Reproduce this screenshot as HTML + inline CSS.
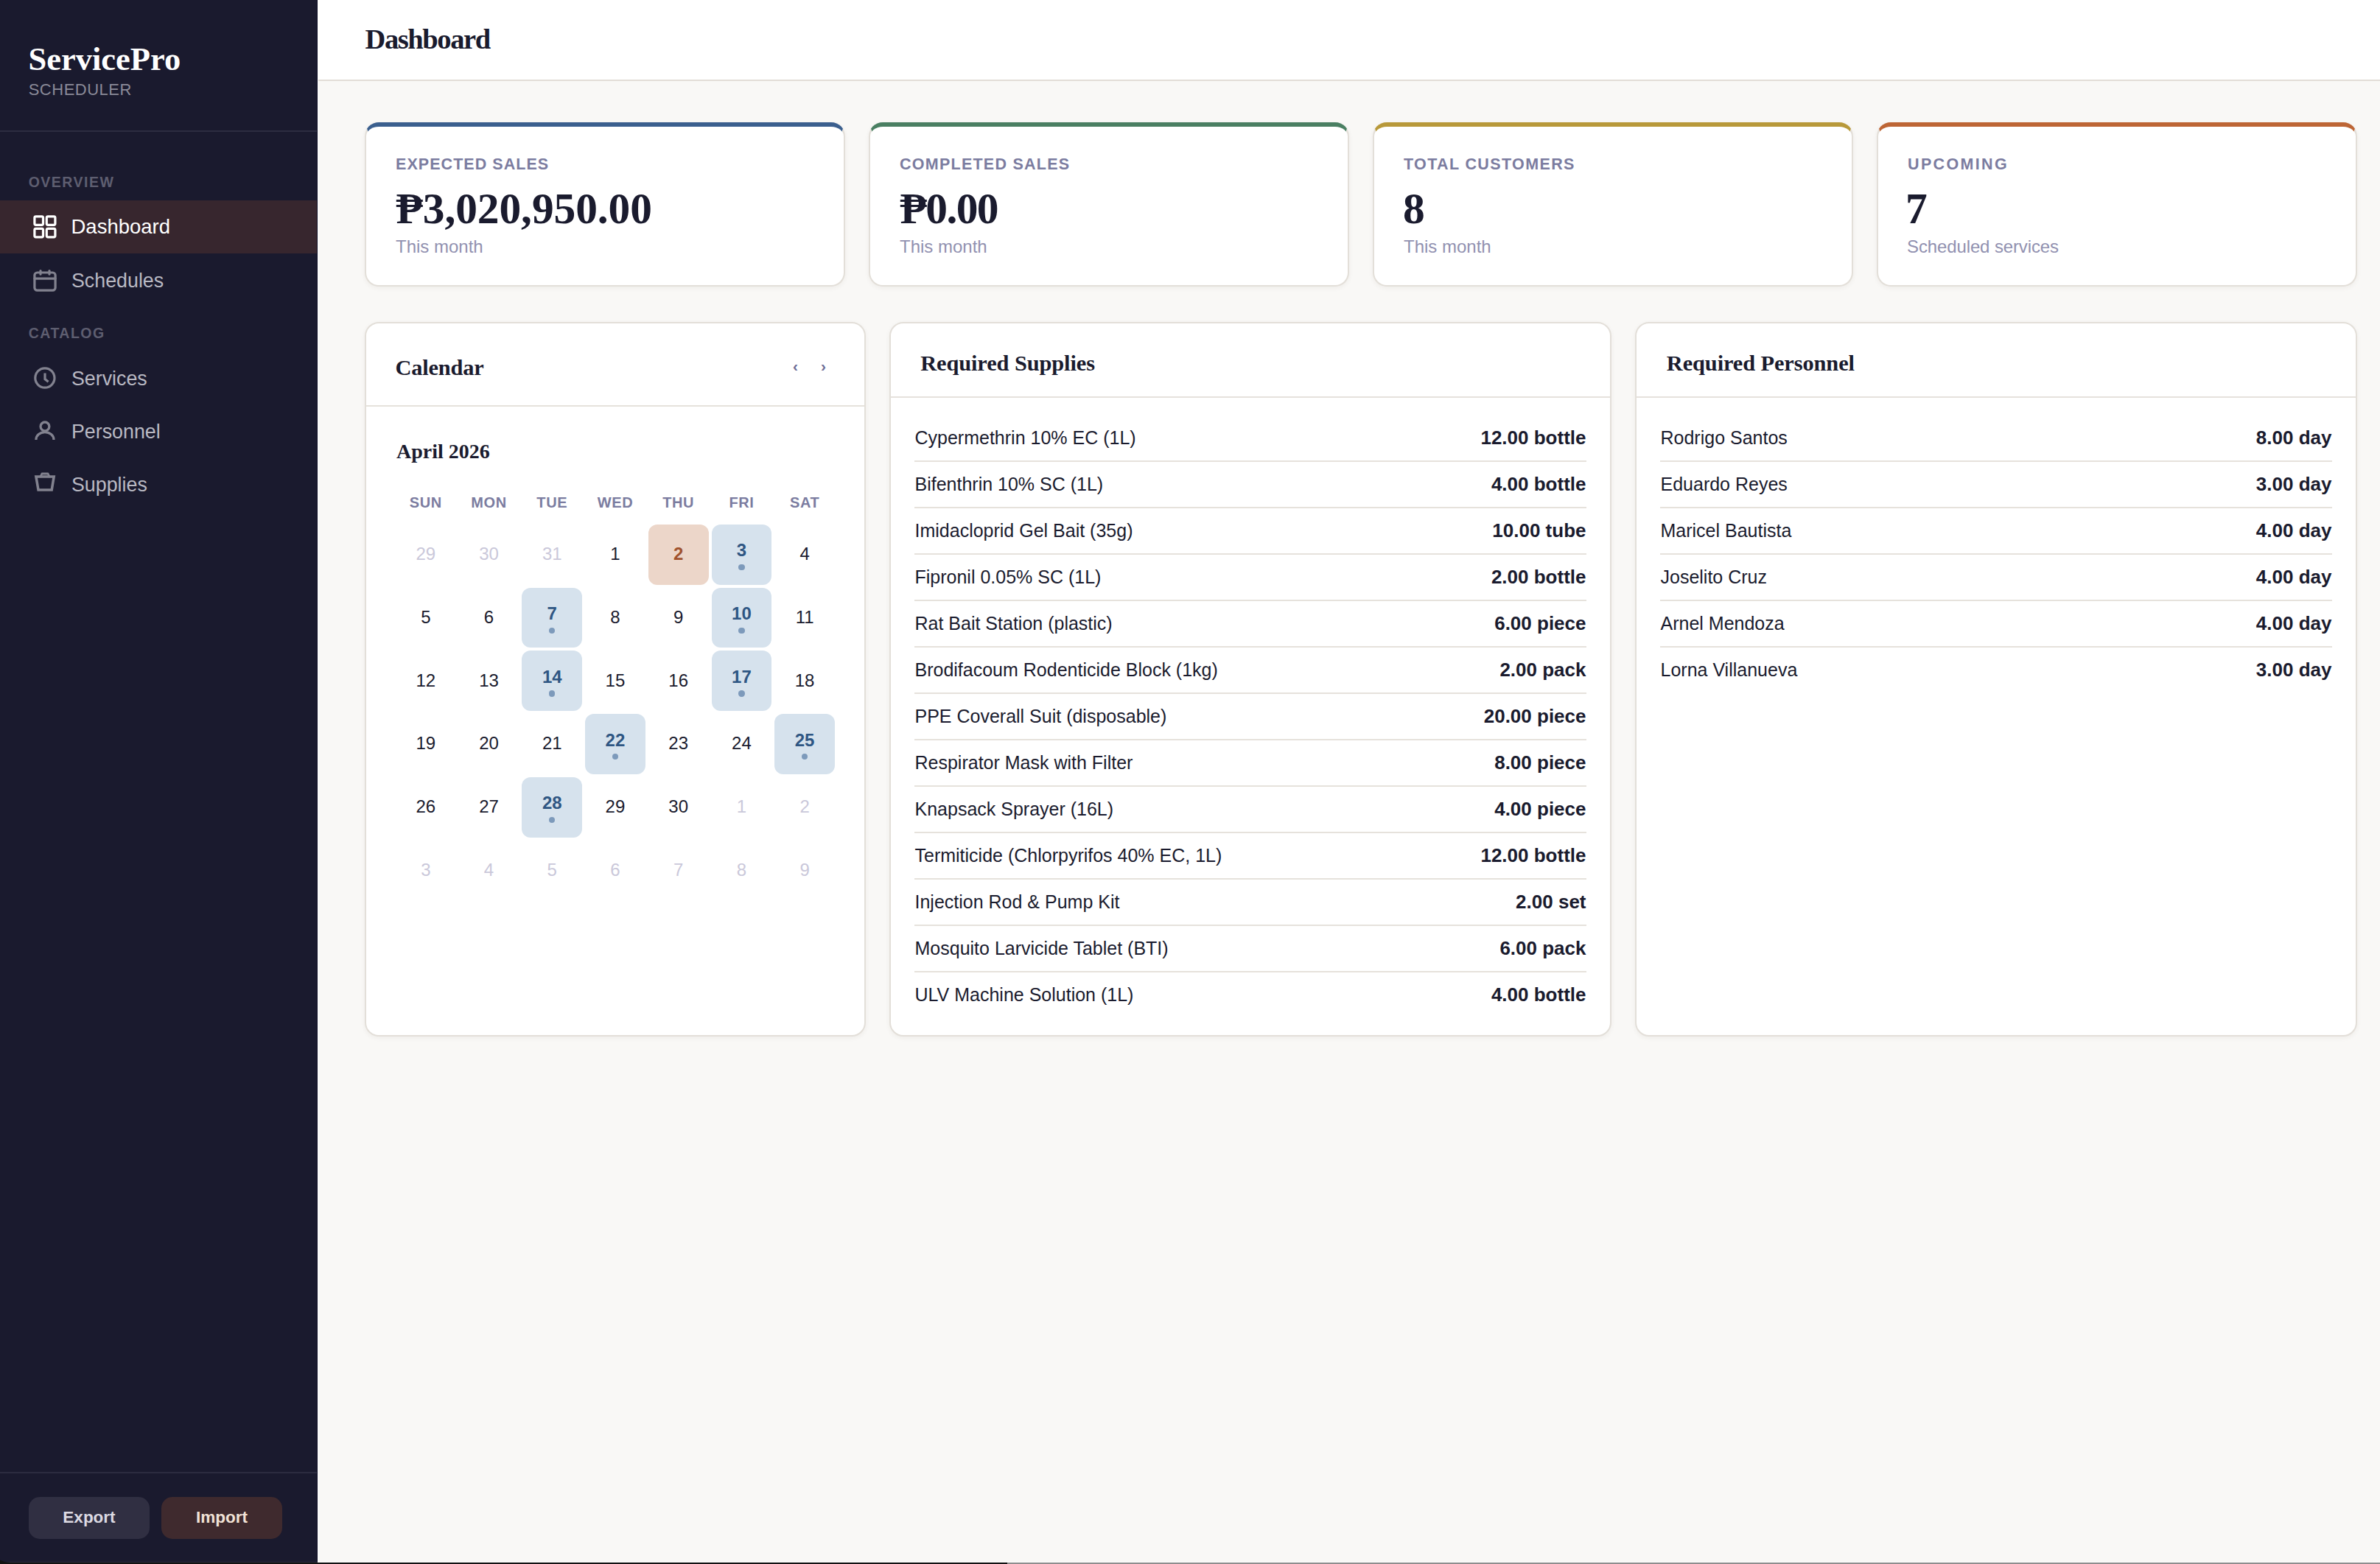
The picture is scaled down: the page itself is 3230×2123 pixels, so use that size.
<!DOCTYPE html>
<html><head><meta charset="utf-8"><title>ServicePro Scheduler - Dashboard</title>
<style>
*{margin:0;padding:0;box-sizing:border-box}
html,body{width:3230px;height:2123px;overflow:hidden;background:#f9f8f6;font-family:'Liberation Sans', sans-serif}
.t{position:absolute;line-height:0;white-space:nowrap}
.r{position:absolute}
svg{position:absolute;overflow:visible}
.card{position:absolute;background:#fff;border:2px solid #e3dfd9;border-radius:19px;box-shadow:0 2px 6px rgba(60,50,40,0.06)}
</style></head><body>
<div class="r" style="left:0px;top:0px;width:431px;height:2121px;background:#1a1a2e;"></div>
<div class="t" style="top:79.79px;font-size:44.5px;font-family:'Liberation Serif', serif;font-weight:700;color:#ffffff;left:38.5px;">ServicePro</div>
<div class="t" style="top:122.47px;font-size:22px;font-family:'Liberation Sans', sans-serif;font-weight:400;color:#8a8a98;letter-spacing:0.5px;left:38.7px;">SCHEDULER</div>
<div class="r" style="left:0px;top:177px;width:431px;height:2px;background:#2c2c40;"></div>
<div class="t" style="top:247.44px;font-size:19.5px;font-family:'Liberation Sans', sans-serif;font-weight:700;color:#5e5e70;letter-spacing:1.5px;left:38.7px;">OVERVIEW</div>
<div class="r" style="left:0px;top:272px;width:431px;height:72px;background:#37262e;"></div>
<div class="t" style="top:308.47px;font-size:27.5px;font-family:'Liberation Sans', sans-serif;font-weight:400;color:#ffffff;left:96.5px;">Dashboard</div>
<div class="t" style="top:380.91px;font-size:26.8px;font-family:'Liberation Sans', sans-serif;font-weight:400;color:#b9b9c3;left:97px;">Schedules</div>
<div class="t" style="top:513.71px;font-size:26.8px;font-family:'Liberation Sans', sans-serif;font-weight:400;color:#b9b9c3;left:97px;">Services</div>
<div class="t" style="top:585.71px;font-size:26.8px;font-family:'Liberation Sans', sans-serif;font-weight:400;color:#b9b9c3;left:97px;">Personnel</div>
<div class="t" style="top:658.01px;font-size:26.8px;font-family:'Liberation Sans', sans-serif;font-weight:400;color:#b9b9c3;left:97px;">Supplies</div>
<div class="t" style="top:452.44px;font-size:19.5px;font-family:'Liberation Sans', sans-serif;font-weight:700;color:#5e5e70;letter-spacing:1.5px;left:38.7px;">CATALOG</div>
<svg style="left:40px;top:285px" width="45" height="45" viewBox="0 0 45 45" fill="none" stroke="#ffffff" stroke-width="3.2" stroke-linecap="round" stroke-linejoin="round"><rect x="6.9" y="8.8" width="11.6" height="11.6" rx="1.8"/><rect x="6.9" y="25.3" width="11.6" height="11.6" rx="1.8"/><rect x="23.3" y="8.8" width="11.6" height="11.6" rx="1.8"/><rect x="23.3" y="25.3" width="11.6" height="11.6" rx="1.8"/></svg>
<svg style="left:40px;top:358px" width="45" height="45" viewBox="0 0 45 45" fill="none" stroke="#82828f" stroke-width="3.2" stroke-linecap="round" stroke-linejoin="round"><rect x="6.9" y="12" width="28.2" height="24.1" rx="3.6"/><path d="M6.9 20.1H35.1" /><path d="M15 9.5V14.2M27 9.5V14.2"/></svg>
<svg style="left:40px;top:491px" width="45" height="45" viewBox="0 0 45 45" fill="none" stroke="#82828f" stroke-width="3.2" stroke-linecap="round" stroke-linejoin="round"><circle cx="20.9" cy="22" r="13.1"/><path d="M21 15.6V23.6L25.6 27.2" stroke-linecap="butt" stroke-linejoin="miter"/></svg>
<svg style="left:40px;top:563px" width="45" height="45" viewBox="0 0 45 45" fill="none" stroke="#82828f" stroke-width="3.3" stroke-linecap="round" stroke-linejoin="round"><circle cx="20.95" cy="15.9" r="5.9"/><path d="M8.9 33.9A12 10.3 0 0 1 33 33.9" stroke-linecap="butt"/></svg>
<svg style="left:40px;top:635px" width="45" height="45" viewBox="0 0 45 45" fill="none" stroke="#82828f" stroke-width="3.5" stroke-linecap="round" stroke-linejoin="round"><path d="M8.9 11.9H33.2L30.2 29.9H12Z" stroke-linejoin="miter"/><path d="M15 11.9L16.9 8H25.1L27 11.9" stroke-width="2.8"/></svg>
<div class="r" style="left:0px;top:1998px;width:431px;height:2px;background:#2c2c40;"></div>
<div class="r" style="left:39px;top:2032px;width:164px;height:57px;background:#302f42;border-radius:15px"></div>
<div class="r" style="left:219px;top:2032px;width:164px;height:57px;background:#3f2a2e;border-radius:15px"></div>
<div class="t" style="top:2060.40px;font-size:22.5px;font-family:'Liberation Sans', sans-serif;font-weight:700;color:#dcdae2;left:39.0px;width:164px;text-align:center;">Export</div>
<div class="t" style="top:2060.40px;font-size:22.5px;font-family:'Liberation Sans', sans-serif;font-weight:700;color:#f1e2d6;left:219.0px;width:164px;text-align:center;">Import</div>
<div class="r" style="left:431px;top:0px;width:2799px;height:108px;background:#ffffff;"></div>
<div class="r" style="left:431px;top:108px;width:2799px;height:2px;background:#e2ddd7;"></div>
<div class="t" style="top:53.41px;font-size:38.5px;font-family:'Liberation Serif', serif;font-weight:700;color:#1a1b2e;letter-spacing:-1.4px;left:495.5px;">Dashboard</div>
<div class="card" style="left:495px;top:166px;width:652px;height:223px;border-top:6px solid #3b5f8e"></div>
<div class="t" style="top:222.75px;font-size:21.5px;font-family:'Liberation Sans', sans-serif;font-weight:700;color:#7b7ca0;letter-spacing:1.05px;left:537px;">EXPECTED SALES</div>
<div class="t" style="top:282.92px;font-size:59.5px;font-family:'Liberation Serif', serif;font-weight:700;color:#1a1b2e;letter-spacing:-0.1px;left:537.5px;">&#8369;3,020,950.00</div>
<div class="t" style="top:334.98px;font-size:24px;font-family:'Liberation Sans', sans-serif;font-weight:400;color:#9191b0;left:537px;">This month</div>
<div class="card" style="left:1179px;top:166px;width:652px;height:223px;border-top:6px solid #4a7f62"></div>
<div class="t" style="top:222.75px;font-size:21.5px;font-family:'Liberation Sans', sans-serif;font-weight:700;color:#7b7ca0;letter-spacing:1.25px;left:1221px;">COMPLETED SALES</div>
<div class="t" style="top:282.92px;font-size:59.5px;font-family:'Liberation Serif', serif;font-weight:700;color:#1a1b2e;letter-spacing:-1.6px;left:1221.5px;">&#8369;0.00</div>
<div class="t" style="top:334.98px;font-size:24px;font-family:'Liberation Sans', sans-serif;font-weight:400;color:#9191b0;left:1221px;">This month</div>
<div class="card" style="left:1863px;top:166px;width:652px;height:223px;border-top:6px solid #b8993a"></div>
<div class="t" style="top:222.75px;font-size:21.5px;font-family:'Liberation Sans', sans-serif;font-weight:700;color:#7b7ca0;letter-spacing:1.37px;left:1905px;">TOTAL CUSTOMERS</div>
<div class="t" style="top:282.92px;font-size:59.5px;font-family:'Liberation Serif', serif;font-weight:700;color:#1a1b2e;left:1904px;">8</div>
<div class="t" style="top:334.98px;font-size:24px;font-family:'Liberation Sans', sans-serif;font-weight:400;color:#9191b0;left:1905px;">This month</div>
<div class="card" style="left:2547px;top:166px;width:652px;height:223px;border-top:6px solid #bd6535"></div>
<div class="t" style="top:222.75px;font-size:21.5px;font-family:'Liberation Sans', sans-serif;font-weight:700;color:#7b7ca0;letter-spacing:2.35px;left:2589px;">UPCOMING</div>
<div class="t" style="top:282.92px;font-size:59.5px;font-family:'Liberation Serif', serif;font-weight:700;color:#1a1b2e;left:2586px;">7</div>
<div class="t" style="top:334.98px;font-size:24px;font-family:'Liberation Sans', sans-serif;font-weight:400;color:#9191b0;letter-spacing:-0.12px;left:2588px;">Scheduled services</div>
<div class="card" style="left:495px;top:437px;width:680px;height:970px"></div>
<div class="card" style="left:1207px;top:437px;width:980px;height:970px"></div>
<div class="card" style="left:2219px;top:437px;width:980px;height:970px"></div>
<div class="r" style="left:497px;top:550px;width:676px;height:2px;background:#e6e2dc;"></div>
<div class="t" style="top:499.24px;font-size:30.4px;font-family:'Liberation Serif', serif;font-weight:700;color:#1a1b2e;letter-spacing:-0.2px;left:536.5px;">Calendar</div>
<div class="t" style="top:497.32px;font-size:21px;font-family:'Liberation Sans', sans-serif;font-weight:700;color:#6e6e96;left:1069.5px;width:20px;text-align:center;">&#8249;</div>
<div class="t" style="top:497.32px;font-size:21px;font-family:'Liberation Sans', sans-serif;font-weight:700;color:#6e6e96;left:1107.5px;width:20px;text-align:center;">&#8250;</div>
<div class="t" style="top:613.05px;font-size:28px;font-family:'Liberation Serif', serif;font-weight:700;color:#1a1b2e;left:538px;">April 2026</div>
<div class="t" style="top:682.27px;font-size:20px;font-family:'Liberation Sans', sans-serif;font-weight:700;color:#7b7ca0;letter-spacing:0.6px;left:535.85px;width:84px;text-align:center;">SUN</div>
<div class="t" style="top:682.27px;font-size:20px;font-family:'Liberation Sans', sans-serif;font-weight:700;color:#7b7ca0;letter-spacing:0.6px;left:621.5600000000001px;width:84px;text-align:center;">MON</div>
<div class="t" style="top:682.27px;font-size:20px;font-family:'Liberation Sans', sans-serif;font-weight:700;color:#7b7ca0;letter-spacing:0.6px;left:707.27px;width:84px;text-align:center;">TUE</div>
<div class="t" style="top:682.27px;font-size:20px;font-family:'Liberation Sans', sans-serif;font-weight:700;color:#7b7ca0;letter-spacing:0.6px;left:792.98px;width:84px;text-align:center;">WED</div>
<div class="t" style="top:682.27px;font-size:20px;font-family:'Liberation Sans', sans-serif;font-weight:700;color:#7b7ca0;letter-spacing:0.6px;left:878.69px;width:84px;text-align:center;">THU</div>
<div class="t" style="top:682.27px;font-size:20px;font-family:'Liberation Sans', sans-serif;font-weight:700;color:#7b7ca0;letter-spacing:0.6px;left:964.4px;width:84px;text-align:center;">FRI</div>
<div class="t" style="top:682.27px;font-size:20px;font-family:'Liberation Sans', sans-serif;font-weight:700;color:#7b7ca0;letter-spacing:0.6px;left:1050.1100000000001px;width:84px;text-align:center;">SAT</div>
<div class="t" style="top:752.28px;font-size:24px;font-family:'Liberation Sans', sans-serif;font-weight:400;color:#cac8da;left:537.0px;width:81.7px;text-align:center;">29</div>
<div class="t" style="top:752.28px;font-size:24px;font-family:'Liberation Sans', sans-serif;font-weight:400;color:#cac8da;left:622.71px;width:81.7px;text-align:center;">30</div>
<div class="t" style="top:752.28px;font-size:24px;font-family:'Liberation Sans', sans-serif;font-weight:400;color:#cac8da;left:708.42px;width:81.7px;text-align:center;">31</div>
<div class="t" style="top:752.28px;font-size:24px;font-family:'Liberation Sans', sans-serif;font-weight:400;color:#1a1b2e;left:794.13px;width:81.7px;text-align:center;">1</div>
<div class="r" style="left:879.84px;top:712.00px;width:81.7px;height:81.7px;background:#ecd6c9;border-radius:12px"></div>
<div class="t" style="top:752.28px;font-size:24px;font-family:'Liberation Sans', sans-serif;font-weight:700;color:#a0522d;left:879.8399999999999px;width:81.7px;text-align:center;">2</div>
<div class="r" style="left:965.55px;top:712.00px;width:81.7px;height:81.7px;background:#d6e2ed;border-radius:12px"></div>
<div class="t" style="top:747.48px;font-size:24px;font-family:'Liberation Sans', sans-serif;font-weight:700;color:#2f5683;left:965.55px;width:81.7px;text-align:center;">3</div>
<div class="r" style="left:1002.20px;top:765.80px;width:8.4px;height:8.4px;border-radius:50%;background:#7d9abb"></div>
<div class="t" style="top:752.28px;font-size:24px;font-family:'Liberation Sans', sans-serif;font-weight:400;color:#1a1b2e;left:1051.26px;width:81.7px;text-align:center;">4</div>
<div class="t" style="top:837.99px;font-size:24px;font-family:'Liberation Sans', sans-serif;font-weight:400;color:#1a1b2e;left:537.0px;width:81.7px;text-align:center;">5</div>
<div class="t" style="top:837.99px;font-size:24px;font-family:'Liberation Sans', sans-serif;font-weight:400;color:#1a1b2e;left:622.71px;width:81.7px;text-align:center;">6</div>
<div class="r" style="left:708.42px;top:797.71px;width:81.7px;height:81.7px;background:#d6e2ed;border-radius:12px"></div>
<div class="t" style="top:833.19px;font-size:24px;font-family:'Liberation Sans', sans-serif;font-weight:700;color:#2f5683;left:708.42px;width:81.7px;text-align:center;">7</div>
<div class="r" style="left:745.07px;top:851.51px;width:8.4px;height:8.4px;border-radius:50%;background:#7d9abb"></div>
<div class="t" style="top:837.99px;font-size:24px;font-family:'Liberation Sans', sans-serif;font-weight:400;color:#1a1b2e;left:794.13px;width:81.7px;text-align:center;">8</div>
<div class="t" style="top:837.99px;font-size:24px;font-family:'Liberation Sans', sans-serif;font-weight:400;color:#1a1b2e;left:879.8399999999999px;width:81.7px;text-align:center;">9</div>
<div class="r" style="left:965.55px;top:797.71px;width:81.7px;height:81.7px;background:#d6e2ed;border-radius:12px"></div>
<div class="t" style="top:833.19px;font-size:24px;font-family:'Liberation Sans', sans-serif;font-weight:700;color:#2f5683;left:965.55px;width:81.7px;text-align:center;">10</div>
<div class="r" style="left:1002.20px;top:851.51px;width:8.4px;height:8.4px;border-radius:50%;background:#7d9abb"></div>
<div class="t" style="top:837.99px;font-size:24px;font-family:'Liberation Sans', sans-serif;font-weight:400;color:#1a1b2e;left:1051.26px;width:81.7px;text-align:center;">11</div>
<div class="t" style="top:923.70px;font-size:24px;font-family:'Liberation Sans', sans-serif;font-weight:400;color:#1a1b2e;left:537.0px;width:81.7px;text-align:center;">12</div>
<div class="t" style="top:923.70px;font-size:24px;font-family:'Liberation Sans', sans-serif;font-weight:400;color:#1a1b2e;left:622.71px;width:81.7px;text-align:center;">13</div>
<div class="r" style="left:708.42px;top:883.42px;width:81.7px;height:81.7px;background:#d6e2ed;border-radius:12px"></div>
<div class="t" style="top:918.90px;font-size:24px;font-family:'Liberation Sans', sans-serif;font-weight:700;color:#2f5683;left:708.42px;width:81.7px;text-align:center;">14</div>
<div class="r" style="left:745.07px;top:937.22px;width:8.4px;height:8.4px;border-radius:50%;background:#7d9abb"></div>
<div class="t" style="top:923.70px;font-size:24px;font-family:'Liberation Sans', sans-serif;font-weight:400;color:#1a1b2e;left:794.13px;width:81.7px;text-align:center;">15</div>
<div class="t" style="top:923.70px;font-size:24px;font-family:'Liberation Sans', sans-serif;font-weight:400;color:#1a1b2e;left:879.8399999999999px;width:81.7px;text-align:center;">16</div>
<div class="r" style="left:965.55px;top:883.42px;width:81.7px;height:81.7px;background:#d6e2ed;border-radius:12px"></div>
<div class="t" style="top:918.90px;font-size:24px;font-family:'Liberation Sans', sans-serif;font-weight:700;color:#2f5683;left:965.55px;width:81.7px;text-align:center;">17</div>
<div class="r" style="left:1002.20px;top:937.22px;width:8.4px;height:8.4px;border-radius:50%;background:#7d9abb"></div>
<div class="t" style="top:923.70px;font-size:24px;font-family:'Liberation Sans', sans-serif;font-weight:400;color:#1a1b2e;left:1051.26px;width:81.7px;text-align:center;">18</div>
<div class="t" style="top:1009.41px;font-size:24px;font-family:'Liberation Sans', sans-serif;font-weight:400;color:#1a1b2e;left:537.0px;width:81.7px;text-align:center;">19</div>
<div class="t" style="top:1009.41px;font-size:24px;font-family:'Liberation Sans', sans-serif;font-weight:400;color:#1a1b2e;left:622.71px;width:81.7px;text-align:center;">20</div>
<div class="t" style="top:1009.41px;font-size:24px;font-family:'Liberation Sans', sans-serif;font-weight:400;color:#1a1b2e;left:708.42px;width:81.7px;text-align:center;">21</div>
<div class="r" style="left:794.13px;top:969.13px;width:81.7px;height:81.7px;background:#d6e2ed;border-radius:12px"></div>
<div class="t" style="top:1004.61px;font-size:24px;font-family:'Liberation Sans', sans-serif;font-weight:700;color:#2f5683;left:794.13px;width:81.7px;text-align:center;">22</div>
<div class="r" style="left:830.78px;top:1022.93px;width:8.4px;height:8.4px;border-radius:50%;background:#7d9abb"></div>
<div class="t" style="top:1009.41px;font-size:24px;font-family:'Liberation Sans', sans-serif;font-weight:400;color:#1a1b2e;left:879.8399999999999px;width:81.7px;text-align:center;">23</div>
<div class="t" style="top:1009.41px;font-size:24px;font-family:'Liberation Sans', sans-serif;font-weight:400;color:#1a1b2e;left:965.55px;width:81.7px;text-align:center;">24</div>
<div class="r" style="left:1051.26px;top:969.13px;width:81.7px;height:81.7px;background:#d6e2ed;border-radius:12px"></div>
<div class="t" style="top:1004.61px;font-size:24px;font-family:'Liberation Sans', sans-serif;font-weight:700;color:#2f5683;left:1051.26px;width:81.7px;text-align:center;">25</div>
<div class="r" style="left:1087.91px;top:1022.93px;width:8.4px;height:8.4px;border-radius:50%;background:#7d9abb"></div>
<div class="t" style="top:1095.12px;font-size:24px;font-family:'Liberation Sans', sans-serif;font-weight:400;color:#1a1b2e;left:537.0px;width:81.7px;text-align:center;">26</div>
<div class="t" style="top:1095.12px;font-size:24px;font-family:'Liberation Sans', sans-serif;font-weight:400;color:#1a1b2e;left:622.71px;width:81.7px;text-align:center;">27</div>
<div class="r" style="left:708.42px;top:1054.84px;width:81.7px;height:81.7px;background:#d6e2ed;border-radius:12px"></div>
<div class="t" style="top:1090.32px;font-size:24px;font-family:'Liberation Sans', sans-serif;font-weight:700;color:#2f5683;left:708.42px;width:81.7px;text-align:center;">28</div>
<div class="r" style="left:745.07px;top:1108.64px;width:8.4px;height:8.4px;border-radius:50%;background:#7d9abb"></div>
<div class="t" style="top:1095.12px;font-size:24px;font-family:'Liberation Sans', sans-serif;font-weight:400;color:#1a1b2e;left:794.13px;width:81.7px;text-align:center;">29</div>
<div class="t" style="top:1095.12px;font-size:24px;font-family:'Liberation Sans', sans-serif;font-weight:400;color:#1a1b2e;left:879.8399999999999px;width:81.7px;text-align:center;">30</div>
<div class="t" style="top:1095.12px;font-size:24px;font-family:'Liberation Sans', sans-serif;font-weight:400;color:#cac8da;left:965.55px;width:81.7px;text-align:center;">1</div>
<div class="t" style="top:1095.12px;font-size:24px;font-family:'Liberation Sans', sans-serif;font-weight:400;color:#cac8da;left:1051.26px;width:81.7px;text-align:center;">2</div>
<div class="t" style="top:1180.83px;font-size:24px;font-family:'Liberation Sans', sans-serif;font-weight:400;color:#cac8da;left:537.0px;width:81.7px;text-align:center;">3</div>
<div class="t" style="top:1180.83px;font-size:24px;font-family:'Liberation Sans', sans-serif;font-weight:400;color:#cac8da;left:622.71px;width:81.7px;text-align:center;">4</div>
<div class="t" style="top:1180.83px;font-size:24px;font-family:'Liberation Sans', sans-serif;font-weight:400;color:#cac8da;left:708.42px;width:81.7px;text-align:center;">5</div>
<div class="t" style="top:1180.83px;font-size:24px;font-family:'Liberation Sans', sans-serif;font-weight:400;color:#cac8da;left:794.13px;width:81.7px;text-align:center;">6</div>
<div class="t" style="top:1180.83px;font-size:24px;font-family:'Liberation Sans', sans-serif;font-weight:400;color:#cac8da;left:879.8399999999999px;width:81.7px;text-align:center;">7</div>
<div class="t" style="top:1180.83px;font-size:24px;font-family:'Liberation Sans', sans-serif;font-weight:400;color:#cac8da;left:965.55px;width:81.7px;text-align:center;">8</div>
<div class="t" style="top:1180.83px;font-size:24px;font-family:'Liberation Sans', sans-serif;font-weight:400;color:#cac8da;left:1051.26px;width:81.7px;text-align:center;">9</div>
<div class="r" style="left:1209px;top:538px;width:976px;height:2px;background:#e6e2dc;"></div>
<div class="t" style="top:492.94px;font-size:30.4px;font-family:'Liberation Serif', serif;font-weight:700;color:#1a1b2e;letter-spacing:-0.1px;left:1249.2px;">Required Supplies</div>
<div class="t" style="top:594.33px;font-size:25px;font-family:'Liberation Sans', sans-serif;font-weight:400;color:#1a1b2e;left:1241.5px;">Cypermethrin 10% EC (1L)</div>
<div class="t" style="top:593.99px;font-size:26px;font-family:'Liberation Sans', sans-serif;font-weight:700;color:#1a1b2e;right:1077.5px;">12.00 bottle</div>
<div class="r" style="left:1241px;top:625px;width:912px;height:2px;background:#e6e2dc;"></div>
<div class="t" style="top:657.33px;font-size:25px;font-family:'Liberation Sans', sans-serif;font-weight:400;color:#1a1b2e;left:1241.5px;">Bifenthrin 10% SC (1L)</div>
<div class="t" style="top:656.99px;font-size:26px;font-family:'Liberation Sans', sans-serif;font-weight:700;color:#1a1b2e;right:1077.5px;">4.00 bottle</div>
<div class="r" style="left:1241px;top:688px;width:912px;height:2px;background:#e6e2dc;"></div>
<div class="t" style="top:720.33px;font-size:25px;font-family:'Liberation Sans', sans-serif;font-weight:400;color:#1a1b2e;left:1241.5px;">Imidacloprid Gel Bait (35g)</div>
<div class="t" style="top:719.99px;font-size:26px;font-family:'Liberation Sans', sans-serif;font-weight:700;color:#1a1b2e;right:1077.5px;">10.00 tube</div>
<div class="r" style="left:1241px;top:751px;width:912px;height:2px;background:#e6e2dc;"></div>
<div class="t" style="top:783.33px;font-size:25px;font-family:'Liberation Sans', sans-serif;font-weight:400;color:#1a1b2e;left:1241.5px;">Fipronil 0.05% SC (1L)</div>
<div class="t" style="top:782.99px;font-size:26px;font-family:'Liberation Sans', sans-serif;font-weight:700;color:#1a1b2e;right:1077.5px;">2.00 bottle</div>
<div class="r" style="left:1241px;top:814px;width:912px;height:2px;background:#e6e2dc;"></div>
<div class="t" style="top:846.33px;font-size:25px;font-family:'Liberation Sans', sans-serif;font-weight:400;color:#1a1b2e;left:1241.5px;">Rat Bait Station (plastic)</div>
<div class="t" style="top:845.99px;font-size:26px;font-family:'Liberation Sans', sans-serif;font-weight:700;color:#1a1b2e;right:1077.5px;">6.00 piece</div>
<div class="r" style="left:1241px;top:877px;width:912px;height:2px;background:#e6e2dc;"></div>
<div class="t" style="top:909.33px;font-size:25px;font-family:'Liberation Sans', sans-serif;font-weight:400;color:#1a1b2e;left:1241.5px;">Brodifacoum Rodenticide Block (1kg)</div>
<div class="t" style="top:908.99px;font-size:26px;font-family:'Liberation Sans', sans-serif;font-weight:700;color:#1a1b2e;right:1077.5px;">2.00 pack</div>
<div class="r" style="left:1241px;top:940px;width:912px;height:2px;background:#e6e2dc;"></div>
<div class="t" style="top:972.33px;font-size:25px;font-family:'Liberation Sans', sans-serif;font-weight:400;color:#1a1b2e;left:1241.5px;">PPE Coverall Suit (disposable)</div>
<div class="t" style="top:971.99px;font-size:26px;font-family:'Liberation Sans', sans-serif;font-weight:700;color:#1a1b2e;right:1077.5px;">20.00 piece</div>
<div class="r" style="left:1241px;top:1003px;width:912px;height:2px;background:#e6e2dc;"></div>
<div class="t" style="top:1035.33px;font-size:25px;font-family:'Liberation Sans', sans-serif;font-weight:400;color:#1a1b2e;left:1241.5px;">Respirator Mask with Filter</div>
<div class="t" style="top:1034.99px;font-size:26px;font-family:'Liberation Sans', sans-serif;font-weight:700;color:#1a1b2e;right:1077.5px;">8.00 piece</div>
<div class="r" style="left:1241px;top:1066px;width:912px;height:2px;background:#e6e2dc;"></div>
<div class="t" style="top:1098.33px;font-size:25px;font-family:'Liberation Sans', sans-serif;font-weight:400;color:#1a1b2e;left:1241.5px;">Knapsack Sprayer (16L)</div>
<div class="t" style="top:1097.99px;font-size:26px;font-family:'Liberation Sans', sans-serif;font-weight:700;color:#1a1b2e;right:1077.5px;">4.00 piece</div>
<div class="r" style="left:1241px;top:1129px;width:912px;height:2px;background:#e6e2dc;"></div>
<div class="t" style="top:1161.33px;font-size:25px;font-family:'Liberation Sans', sans-serif;font-weight:400;color:#1a1b2e;left:1241.5px;">Termiticide (Chlorpyrifos 40% EC, 1L)</div>
<div class="t" style="top:1160.99px;font-size:26px;font-family:'Liberation Sans', sans-serif;font-weight:700;color:#1a1b2e;right:1077.5px;">12.00 bottle</div>
<div class="r" style="left:1241px;top:1192px;width:912px;height:2px;background:#e6e2dc;"></div>
<div class="t" style="top:1224.33px;font-size:25px;font-family:'Liberation Sans', sans-serif;font-weight:400;color:#1a1b2e;left:1241.5px;">Injection Rod &amp; Pump Kit</div>
<div class="t" style="top:1223.99px;font-size:26px;font-family:'Liberation Sans', sans-serif;font-weight:700;color:#1a1b2e;right:1077.5px;">2.00 set</div>
<div class="r" style="left:1241px;top:1255px;width:912px;height:2px;background:#e6e2dc;"></div>
<div class="t" style="top:1287.33px;font-size:25px;font-family:'Liberation Sans', sans-serif;font-weight:400;color:#1a1b2e;left:1241.5px;">Mosquito Larvicide Tablet (BTI)</div>
<div class="t" style="top:1286.99px;font-size:26px;font-family:'Liberation Sans', sans-serif;font-weight:700;color:#1a1b2e;right:1077.5px;">6.00 pack</div>
<div class="r" style="left:1241px;top:1318px;width:912px;height:2px;background:#e6e2dc;"></div>
<div class="t" style="top:1350.33px;font-size:25px;font-family:'Liberation Sans', sans-serif;font-weight:400;color:#1a1b2e;left:1241.5px;">ULV Machine Solution (1L)</div>
<div class="t" style="top:1349.99px;font-size:26px;font-family:'Liberation Sans', sans-serif;font-weight:700;color:#1a1b2e;right:1077.5px;">4.00 bottle</div>
<div class="r" style="left:2221px;top:538px;width:976px;height:2px;background:#e6e2dc;"></div>
<div class="t" style="top:492.94px;font-size:30.4px;font-family:'Liberation Serif', serif;font-weight:700;color:#1a1b2e;letter-spacing:-0.1px;left:2261.8px;">Required Personnel</div>
<div class="t" style="top:594.33px;font-size:25px;font-family:'Liberation Sans', sans-serif;font-weight:400;color:#1a1b2e;left:2253.5px;">Rodrigo Santos</div>
<div class="t" style="top:593.99px;font-size:26px;font-family:'Liberation Sans', sans-serif;font-weight:700;color:#1a1b2e;right:65.5px;">8.00 day</div>
<div class="r" style="left:2253px;top:625px;width:912px;height:2px;background:#e6e2dc;"></div>
<div class="t" style="top:657.33px;font-size:25px;font-family:'Liberation Sans', sans-serif;font-weight:400;color:#1a1b2e;left:2253.5px;">Eduardo Reyes</div>
<div class="t" style="top:656.99px;font-size:26px;font-family:'Liberation Sans', sans-serif;font-weight:700;color:#1a1b2e;right:65.5px;">3.00 day</div>
<div class="r" style="left:2253px;top:688px;width:912px;height:2px;background:#e6e2dc;"></div>
<div class="t" style="top:720.33px;font-size:25px;font-family:'Liberation Sans', sans-serif;font-weight:400;color:#1a1b2e;left:2253.5px;">Maricel Bautista</div>
<div class="t" style="top:719.99px;font-size:26px;font-family:'Liberation Sans', sans-serif;font-weight:700;color:#1a1b2e;right:65.5px;">4.00 day</div>
<div class="r" style="left:2253px;top:751px;width:912px;height:2px;background:#e6e2dc;"></div>
<div class="t" style="top:783.33px;font-size:25px;font-family:'Liberation Sans', sans-serif;font-weight:400;color:#1a1b2e;left:2253.5px;">Joselito Cruz</div>
<div class="t" style="top:782.99px;font-size:26px;font-family:'Liberation Sans', sans-serif;font-weight:700;color:#1a1b2e;right:65.5px;">4.00 day</div>
<div class="r" style="left:2253px;top:814px;width:912px;height:2px;background:#e6e2dc;"></div>
<div class="t" style="top:846.33px;font-size:25px;font-family:'Liberation Sans', sans-serif;font-weight:400;color:#1a1b2e;left:2253.5px;">Arnel Mendoza</div>
<div class="t" style="top:845.99px;font-size:26px;font-family:'Liberation Sans', sans-serif;font-weight:700;color:#1a1b2e;right:65.5px;">4.00 day</div>
<div class="r" style="left:2253px;top:877px;width:912px;height:2px;background:#e6e2dc;"></div>
<div class="t" style="top:909.33px;font-size:25px;font-family:'Liberation Sans', sans-serif;font-weight:400;color:#1a1b2e;left:2253.5px;">Lorna Villanueva</div>
<div class="t" style="top:908.99px;font-size:26px;font-family:'Liberation Sans', sans-serif;font-weight:700;color:#1a1b2e;right:65.5px;">3.00 day</div>
<div class="r" style="left:430px;top:0px;width:1px;height:2120px;background:#0d0d24;"></div>
<div class="r" style="left:431px;top:0px;width:1px;height:2120px;background:#ffffff;"></div>
<div class="r" style="left:0px;top:2120px;width:431px;height:1px;background:#2b2b3d;"></div>
<div class="r" style="left:431px;top:2120px;width:2799px;height:1px;background:#ffffff;"></div>
<div class="r" style="left:0px;top:2121px;width:1367px;height:2px;background:#121212;"></div>
<div class="r" style="left:1367px;top:2121px;width:1863px;height:2px;background:#8e8e8e;"></div>
<svg style="left:0;top:2112px" width="14" height="9" viewBox="0 0 14 9"><path d="M0 5.5Q5 8.5 14 9H0Z" fill="#121212"/></svg>
</body></html>
